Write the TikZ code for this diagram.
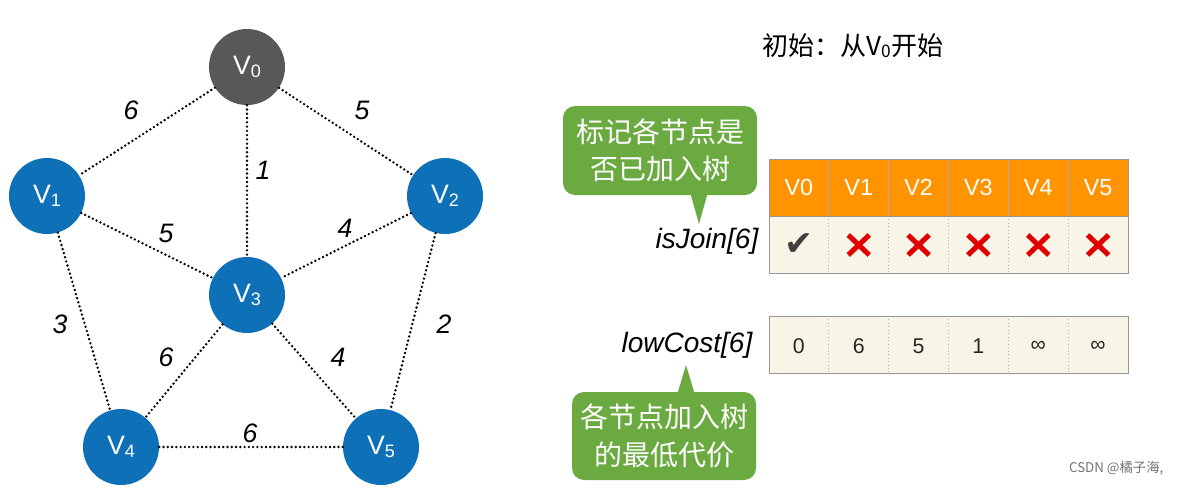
\documentclass[tikz,border=0pt]{standalone}
\usepackage{fontspec}
\usetikzlibrary{calc}
\setmainfont{Liberation Sans}
\newfontfamily\cjk{Noto Sans CJK SC}
\newfontfamily\dejavu{DejaVu Sans}
\definecolor{vblue}{RGB}{14,112,183}
\definecolor{vgray}{RGB}{88,88,88}
\definecolor{horange}{RGB}{255,147,0}
\definecolor{cream}{RGB}{248,245,231}
\definecolor{cgreen}{RGB}{107,170,64}
\definecolor{xred}{RGB}{224,0,0}
\definecolor{bordergray}{RGB}{150,150,150}
\tikzset{
  vtx/.style={circle, fill=vblue, minimum size=57pt, inner sep=0pt, text=white, font=\fontsize{20}{20}\selectfont},
  edgeline/.style={line width=2pt, dash pattern=on 0pt off 3.2pt, line cap=round},
  wlab/.style={font=\fontsize{20}{20}\selectfont\itshape},
  arrlab/.style={font=\fontsize{21}{21}\selectfont\itshape},
  hdr/.style={text=white, font=\fontsize{17.5}{17.5}\selectfont},
  val/.style={font=\fontsize{16}{16}\selectfont, text=black!85},
  callout/.style={fill=cgreen, rounded corners=9pt},
  ctext/.style={text=white, font=\cjk\fontsize{21}{28}\selectfont, align=center},
  xmark/.style={xred, line width=3.8pt},
}
\newcommand{\vsub}[2]{#1\raisebox{-0.2ex}{\fontsize{13.5}{13.5}\selectfont #2}}
\newcommand{\tsub}[2]{#1\raisebox{-0.1ex}{\fontsize{13}{13}\selectfont #2}}
\begin{document}
\begin{tikzpicture}[x=0.75pt,y=-0.75pt]
\useasboundingbox (0,0) rectangle (1181,496);
% graph
\node[vtx, fill=vgray] (v0) at (247,67) {\vsub{V}{0}};
\node[vtx] (v1) at (47,196) {\vsub{V}{1}};
\node[vtx] (v2) at (445,196) {\vsub{V}{2}};
\node[vtx] (v3) at (247,295) {\vsub{V}{3}};
\node[vtx] (v4) at (121,447) {\vsub{V}{4}};
\node[vtx] (v5) at (381,447) {\vsub{V}{5}};
\draw[edgeline] (v0) -- (v1);
\draw[edgeline] (v0) -- (v2);
\draw[edgeline] (v0) -- (v3);
\draw[edgeline] (v1) -- (v3);
\draw[edgeline] (v2) -- (v3);
\draw[edgeline] (v1) -- (v4);
\draw[edgeline] (v2) -- (v5);
\draw[edgeline] (v3) -- (v4);
\draw[edgeline] (v3) -- (v5);
\draw[edgeline] (v4) -- (v5);
\node[wlab] (w01) at (131,110) {6};
\node[wlab] (w02) at (362,110) {5};
\node[wlab] (w03) at (263,170) {1};
\node[wlab] (w13) at (166,233) {5};
\node[wlab] (w23) at (345,228) {4};
\node[wlab] (w14) at (60,324) {3};
\node[wlab] (w25) at (444,324) {2};
\node[wlab] (w34) at (166,357) {6};
\node[wlab] (w35) at (338,357) {4};
\node[wlab] (w45) at (250,433) {6};
% title
\node[font=\cjk\fontsize{19.5}{19.5}\selectfont] (title) at (853,46) {初始：从\tsub{V}{0}开始};
% table 1
\fill[horange] (769,159) rectangle (1128,216);
\fill[cream] (769,216) rectangle (1128,273);
\foreach \i in {1,...,5} {
  \draw[bordergray!80, line width=0.6pt] ({769+59.83*\i},159) -- ({769+59.83*\i},216);
  \draw[bordergray!70, line width=0.6pt, dotted] ({769+59.83*\i},216) -- ({769+59.83*\i},273);
}
\draw[bordergray, line width=0.7pt] (769,216) -- (1128,216);
\draw[bordergray, line width=0.7pt] (769,159) rectangle (1128,273);
\foreach \i in {0,...,5} {
  \node[hdr] (h\i) at ({769+59.83*(\i+0.5)},187.5) {V\i};
}
\node[text=black!75, font=\dejavu\fontsize{26}{26}\selectfont] (j0) at ({769+59.83*0.5},245) {✔};
\foreach \i in {1,...,5} {
  \coordinate (j\i) at ({769+59.83*(\i+0.5)},245);
  \draw[xmark] ($(j\i)+(-10.5,-10)$) -- ($(j\i)+(10.5,10)$);
  \draw[xmark] ($(j\i)+(-10.5,10)$) -- ($(j\i)+(10.5,-10)$);
}
\node[arrlab, anchor=east] (isjoin) at (763,241) {isJoin[6]};
% table 2
\fill[cream] (769,316) rectangle (1128,373);
\foreach \i in {1,...,5} {
  \draw[bordergray!70, line width=0.6pt, dotted] ({769+59.83*\i},316) -- ({769+59.83*\i},373);
}
\draw[bordergray, line width=0.7pt] (769,316) rectangle (1128,373);
\node[val] (c0) at ({769+59.83*0.5},346) {0};
\node[val] (c1) at ({769+59.83*1.5},346) {6};
\node[val] (c2) at ({769+59.83*2.5},346) {5};
\node[val] (c3) at ({769+59.83*3.5},346) {1};
\node[val] (c4) at ({769+59.83*4.5},346) {∞};
\node[val] (c5) at ({769+59.83*5.5},346) {∞};
\node[arrlab, anchor=east] (lowcost) at (757,345) {lowCost[6]};
% callout 1
\fill[cgreen] (690,192) -- (708,192) -- (699,224) -- cycle;
\node[callout, minimum width=145.5pt, minimum height=66.75pt] (call1) at (660,150.5) {};
\node[ctext] (call1t) at (call1) {标记各节点是\\否已加入树};
% callout 2
\fill[cgreen] (677,395) -- (695,395) -- (686,365) -- cycle;
\node[callout, minimum width=138pt, minimum height=66pt] (call2) at (664,436) {};
\node[ctext] (call2t) at (call2) {各节点加入树\\的最低代价};
% watermark text
\node[text=black!55, font=\cjk\fontsize{10}{10}\selectfont, anchor=east] (csdn) at (1168,468) {CSDN @橘子海,};
\end{tikzpicture}
\end{document}
